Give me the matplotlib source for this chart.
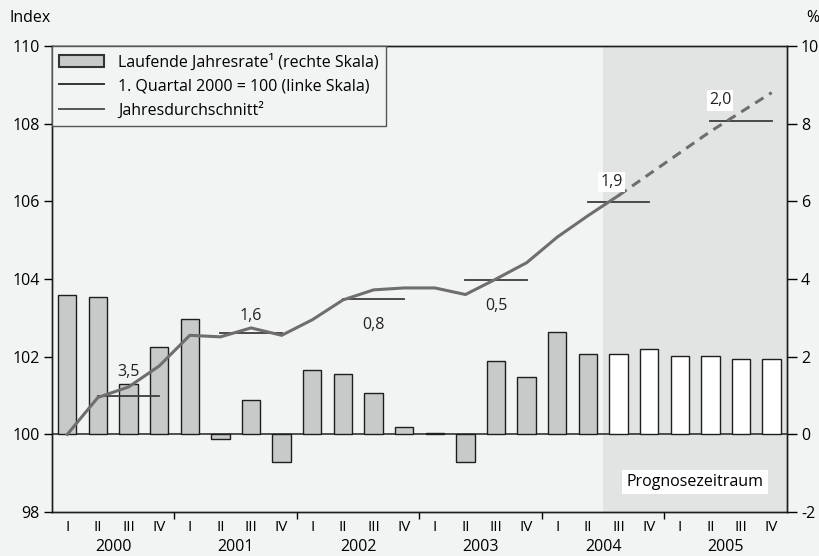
import numpy as np
import matplotlib

matplotlib.use('Agg')
import matplotlib.pyplot as plt
from matplotlib.patches import Patch
from matplotlib.lines import Line2D
from matplotlib.transforms import blended_transform_factory

plt.rcParams['font.family'] = ['Open Sans', 'DejaVu Sans']

# Daten
years = ['2000', '2001', '2002', '2003', '2004', '2005']
quarters = ['I', 'II', 'III', 'IV']
# laufende Jahresrate in % (rechte Skala)
rate = [3.59, 3.54, 1.29, 2.25, 2.97, -0.12, 0.89, -0.71,
        1.66, 1.56, 1.07, 0.18, 0.03, -0.71, 1.90, 1.48,
        2.63, 2.08, 2.08, 2.20, 2.02, 2.02, 1.93, 1.93]
# Index, 1. Quartal 2000 = 100 (linke Skala)
index = [100.0, 100.95, 101.22, 101.76, 102.55, 102.51, 102.74, 102.55,
         102.95, 103.46, 103.72, 103.77, 103.77, 103.6, 104.0, 104.42,
         105.08, 105.63, 106.15, 106.7, 107.25, 107.8, 108.3, 108.8]
# Jahresdurchschnitt (Indexniveau) und Veränderung
annual_avg = [101.0, 102.6, 103.49, 103.97, 105.97, 108.07]
annual_lbl = ['3,5', '1,6', '0,8', '0,5', '1,9', '2,0']
annual_pos = ['above', 'above', 'below', 'below', 'above', 'above']
forecast_start = 18  # ab 2004 III Prognose

bg = '#f2f3f3'
n = len(rate)
x = np.arange(n)

fig = plt.figure(figsize=(8.2, 5.56), dpi=100, facecolor=bg)
ax2 = fig.add_axes([52 / 820, 1 - 512 / 556, 735 / 820, 466 / 556])
ax = ax2.twinx()
ax.yaxis.set_ticks_position('left')
ax2.yaxis.set_ticks_position('right')
ax.set_zorder(ax2.get_zorder() + 1)
ax.patch.set_visible(False)
ax2.set_facecolor(bg)

# Prognosezeitraum
ax2.axvspan(forecast_start - 0.5, n - 0.5, color='#e2e3e3', lw=0, zorder=0)
ax2.axhline(0, color='#222222', lw=1.1, zorder=1)

colors = ['#c8cac9' if i < forecast_start else 'white' for i in range(n)]
ax2.bar(x, rate, width=0.6, color=colors, edgecolor='#1e1e1e', linewidth=1.0, zorder=2)

# Indexlinie
ax.plot(x[:forecast_start + 1], index[:forecast_start + 1], color='#6e6e6e', lw=2.2,
        solid_joinstyle='miter', zorder=4)
ax.plot(x[forecast_start:], index[forecast_start:], color='#6e6e6e', lw=2.2,
        ls=(0, (3.2, 2.2)), zorder=4)

# Jahresdurchschnitte
for k, (val, lbl, pos) in enumerate(zip(annual_avg, annual_lbl, annual_pos)):
    x0, x1 = k * 4 + 1, k * 4 + 3
    ax.plot([x0, x1], [val, val], color='#3c3c3c', lw=1.3, zorder=3)
    dy = 9 if pos == 'above' else -11
    va = 'bottom' if pos == 'above' else 'top'
    if k >= 4:
        box = dict(facecolor='white', edgecolor='none', pad=1.5)
        off = (-5 if k == 4 else -15, dy)
    else:
        box = None
        off = (0, dy + (2 if k == 0 else -2))
    ax.annotate(lbl, (k * 4 + 2, val), xytext=off,
                textcoords='offset points', ha='center', va=va,
                fontsize=11.5, color='#222222', bbox=box, zorder=5)

ax.set_xlim(-0.5, n - 0.5)
ax.set_ylim(98, 110)
ax2.set_ylim(-2, 10)
ax.set_yticks(np.arange(98, 111, 2))
ax2.set_yticks(np.arange(-2, 11, 2))
ax2.set_yticklabels(['-2', '0', '2', '4', '6', '8', '10'])

ax2.set_xticks(x)
ax2.set_xticklabels(quarters * len(years), fontsize=11)
ax2.set_xticks(np.arange(3.5, n - 1, 4), minor=True)
ax2.tick_params(axis='x', which='major', length=0, pad=6)
ax2.tick_params(axis='x', which='minor', length=5, width=1, direction='out')
ax.tick_params(axis='y', length=6, width=1, labelsize=11.5, pad=3)
ax2.tick_params(axis='y', length=7, width=1, labelsize=11.5, pad=3)

trans = blended_transform_factory(ax2.transData, ax2.transAxes)
for k, yr in enumerate(years):
    ax2.text(k * 4 + 1.5, -0.058, yr, transform=trans, ha='center', va='top', fontsize=11.5)

for a in (ax, ax2):
    for s in a.spines.values():
        s.set_color('#1e1e1e')
        s.set_linewidth(1.0)

fig.text(10 / 820, 1 - 18 / 556, 'Index', fontsize=11.5, va='center')
fig.text(806 / 820, 1 - 18 / 556, '%', fontsize=11.5, va='center')

ax.text(20.5, 98.78, 'Prognosezeitraum', ha='center', va='center', fontsize=11.5,
        bbox=dict(facecolor='white', edgecolor='none', pad=3), zorder=5)

handles = [Patch(facecolor='#c8cac9', edgecolor='#333333', lw=1.5),
           Line2D([], [], color='#333333', lw=1.4),
           Line2D([], [], color='#555555', lw=1.4)]
labels = ['Laufende Jahresrate¹ (rechte Skala)',
          '1. Quartal 2000 = 100 (linke Skala)',
          'Jahresdurchschnitt²']
leg = ax.legend(handles, labels, loc='upper left', bbox_to_anchor=(0, 1), borderaxespad=0,
                fontsize=11.5, frameon=True, fancybox=False, handlelength=2.8,
                handleheight=0.75, labelspacing=0.48, borderpad=0.45, handletextpad=0.9)
leg.get_frame().set_edgecolor('#555555')
leg.get_frame().set_facecolor(bg)
leg.get_frame().set_alpha(1)
leg.get_frame().set_linewidth(1.0)
leg.set_zorder(10)

fig.savefig('out.png', dpi=100, facecolor=bg)
